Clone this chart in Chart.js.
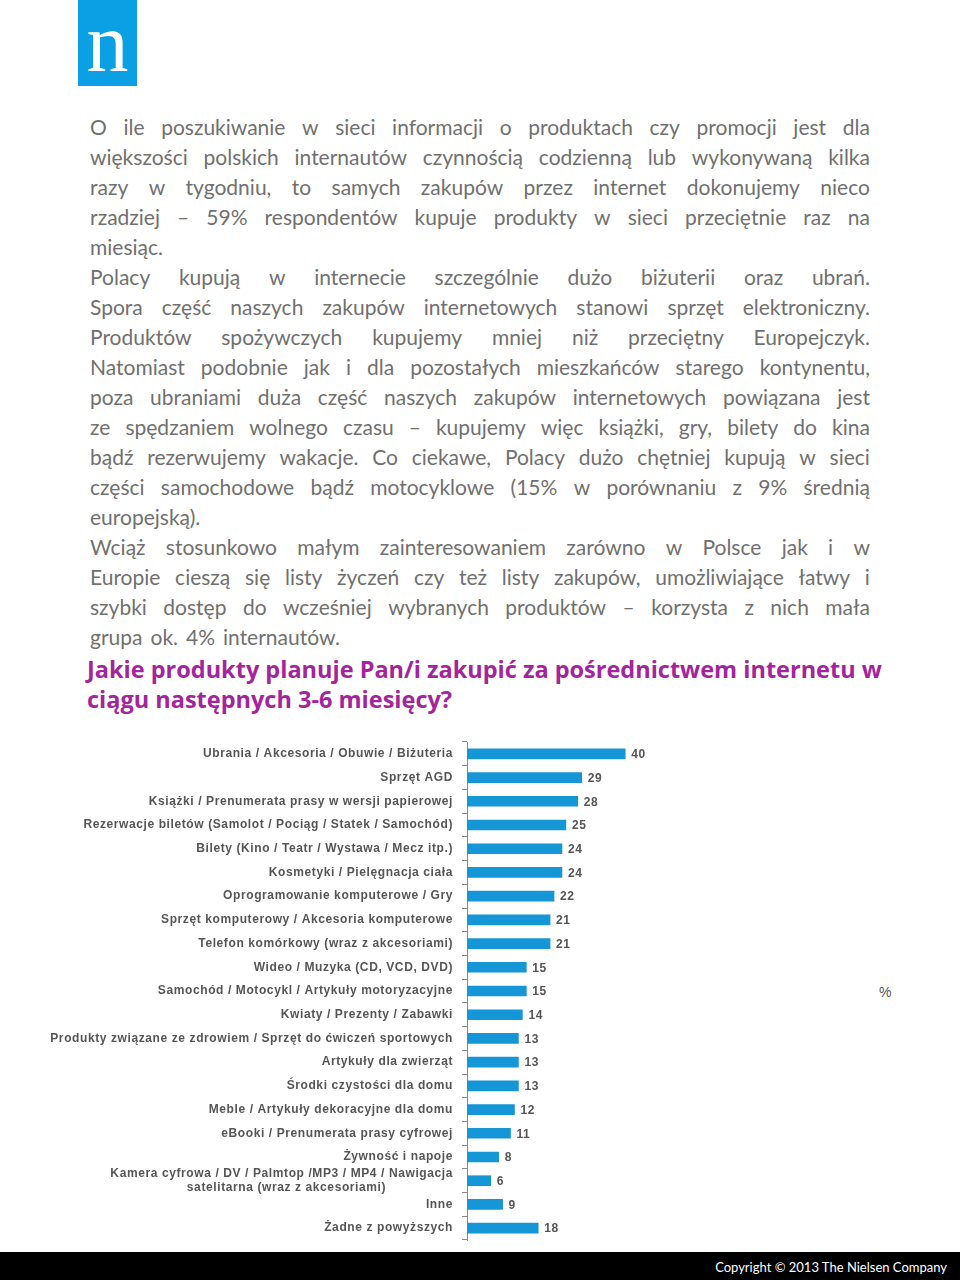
<!DOCTYPE html>
<html lang="pl">
<head>
<meta charset="utf-8">
<script src="https://cdn.jsdelivr.net/npm/chart.js@4.4.1/dist/chart.umd.min.js"></script>
<style>
  html, body { margin: 0; padding: 0; background: #fff; }
  body { width: 960px; height: 1280px; position: relative; overflow: hidden; }
  #logo { position: absolute; left: 78px; top: 0; width: 59px; height: 86px; background: #0ba0e4; }
  #logo span { position: absolute; left: 0; right: 0; top: 0; text-align: center; color: #fff;
    font-family: "Liberation Serif", "DejaVu Serif", serif; font-size: 84px; line-height: 86px; }
  #text { position: absolute; left: 90px; top: 112px; width: 780px; font-family: Lato, "Open Sans", sans-serif;
    font-size: 21px; line-height: 30px; color: #707070; }
  #text .ln { height: 30px; white-space: nowrap; display: flex; }
  #text .ln.j { justify-content: space-between; }
  #text .ln.l span { margin-right: 8px; }
  #question { position: absolute; left: 87px; top: 654px; width: 860px; font-family: "Open Sans", sans-serif;
    font-weight: 700; font-size: 23.5px; line-height: 30px; color: #a3249b; }
  #wrap { position: absolute; left: 40px; top: 740px; width: 620px; height: 502px; }
  #pct { position: absolute; left: 879px; top: 984px; font-family: "Liberation Sans", Arial, sans-serif;
    font-size: 14px; color: #555; }
  #footer { position: absolute; left: 0; top: 1252px; width: 960px; height: 28px; background: #000; }
  #footer span { position: absolute; right: 13px; top: 7px; color: #fff; font-family: Lato, sans-serif; font-size: 13px; }
</style>
</head>
<body>
<div id="logo"><span>n</span></div>
<div id="text"></div>
<div id="question">Jakie produkty planuje Pan/i zakupić za pośrednictwem internetu w<br>ciągu następnych 3-6 miesięcy?</div>
<div id="wrap"><canvas id="myChart"></canvas></div>
<div id="pct">%</div>
<div id="footer"><span>Copyright © 2013 The Nielsen Company</span></div>
<script>
// paragraph lines: [text, justified?]
var lines = [
  ['O ile poszukiwanie w sieci informacji o produktach czy promocji jest dla', true],
  ['większości polskich internautów czynnością codzienną lub wykonywaną kilka', true],
  ['razy w tygodniu, to samych zakupów przez internet dokonujemy nieco', true],
  ['rzadziej – 59% respondentów kupuje produkty w sieci przeciętnie raz na', true],
  ['miesiąc.', false],
  ['Polacy kupują w internecie szczególnie dużo biżuterii oraz ubrań.', true],
  ['Spora część naszych zakupów internetowych stanowi sprzęt elektroniczny.', true],
  ['Produktów spożywczych kupujemy mniej niż przeciętny Europejczyk.', true],
  ['Natomiast podobnie jak i dla pozostałych mieszkańców starego kontynentu,', true],
  ['poza ubraniami duża część naszych zakupów internetowych powiązana jest', true],
  ['ze spędzaniem wolnego czasu – kupujemy więc książki, gry, bilety do kina', true],
  ['bądź rezerwujemy wakacje. Co ciekawe, Polacy dużo chętniej kupują w sieci', true],
  ['części samochodowe bądź motocyklowe (15% w porównaniu z 9% średnią', true],
  ['europejską).', false],
  ['Wciąż stosunkowo małym zainteresowaniem zarówno w Polsce jak i w', true],
  ['Europie cieszą się listy życzeń czy też listy zakupów, umożliwiające łatwy i', true],
  ['szybki dostęp do wcześniej wybranych produktów – korzysta z nich mała', true],
  ['grupa ok. 4% internautów.', false]
];

var products = [
  'Ubrania / Akcesoria / Obuwie / Biżuteria',
  'Sprzęt AGD',
  'Książki / Prenumerata prasy w wersji papierowej',
  'Rezerwacje biletów (Samolot / Pociąg / Statek / Samochód)',
  'Bilety (Kino / Teatr / Wystawa / Mecz itp.)',
  'Kosmetyki / Pielęgnacja ciała',
  'Oprogramowanie komputerowe / Gry',
  'Sprzęt komputerowy / Akcesoria komputerowe',
  'Telefon komórkowy (wraz z akcesoriami)',
  'Wideo / Muzyka (CD, VCD, DVD)',
  'Samochód / Motocykl / Artykuły motoryzacyjne',
  'Kwiaty / Prezenty / Zabawki',
  'Produkty związane ze zdrowiem / Sprzęt do ćwiczeń sportowych',
  'Artykuły dla zwierząt',
  'Środki czystości dla domu',
  'Meble / Artykuły dekoracyjne dla domu',
  'eBooki / Prenumerata prasy cyfrowej',
  'Żywność i napoje',
  ['Kamera cyfrowa / DV / Palmtop /MP3 / MP4 / Nawigacja',
   'satelitarna (wraz z akcesoriami)                 '],
  'Inne',
  'Żadne z powyższych'
];
var percents = [40, 29, 28, 25, 24, 24, 22, 21, 21, 15, 15, 14, 13, 13, 13, 12, 11, 8, 6, 9, 18];

var box = document.getElementById('text');
lines.forEach(function (l) {
  var d = document.createElement('div');
  d.className = 'ln ' + (l[1] ? 'j' : 'l');
  l[0].split(' ').forEach(function (w) {
    var s = document.createElement('span');
    s.textContent = w;
    d.appendChild(s);
  });
  box.appendChild(d);
});

var labelFont = { family: '"Liberation Sans", Arial, sans-serif', size: 12, weight: 'bold' };

// slightly wider letters, like the original
var spacing = {
  id: 'spacing',
  beforeDraw: function (chart) { chart.ctx.letterSpacing = '0.6px'; }
};

// value labels at the end of each bar
var valueLabels = {
  id: 'valueLabels',
  afterDatasetsDraw: function (chart) {
    var c = chart.ctx;
    c.save();
    c.letterSpacing = '0.6px';
    c.font = 'bold 12px "Liberation Sans", Arial, sans-serif';
    c.fillStyle = '#555';
    c.textBaseline = 'middle';
    chart.getDatasetMeta(0).data.forEach(function (bar, i) {
      c.fillText(percents[i], bar.x + 6, bar.y + 1);
    });
    c.restore();
  }
};

var ctx = document.getElementById('myChart').getContext('2d');
var myChart = new Chart(ctx, {
  type: 'bar',
  data: {
    labels: products,
    datasets: [{
      data: percents,
      backgroundColor: '#1596d6',
      barThickness: 10
    }]
  },
  plugins: [spacing, valueLabels],
  options: {
    indexAxis: 'y',
    responsive: true,
    maintainAspectRatio: false,
    animation: false,
    layout: { padding: { top: 2, bottom: 2, left: 0, right: 15 } },
    plugins: {
      legend: { display: false },
      tooltip: { enabled: false }
    },
    scales: {
      x: { display: false, min: 0, max: 45 },
      y: {
        afterFit: function (scale) {
          scale.width = 427;
          scale.paddingTop = 0;
          scale.paddingBottom = 0;
        },
        grid: { drawOnChartArea: false, tickLength: 5, color: '#888', offset: true },
        border: { display: true, color: '#888' },
        ticks: { color: '#555', font: labelFont, padding: 9, autoSkip: false }
      }
    }
  }
});
</script>
</body>
</html>
